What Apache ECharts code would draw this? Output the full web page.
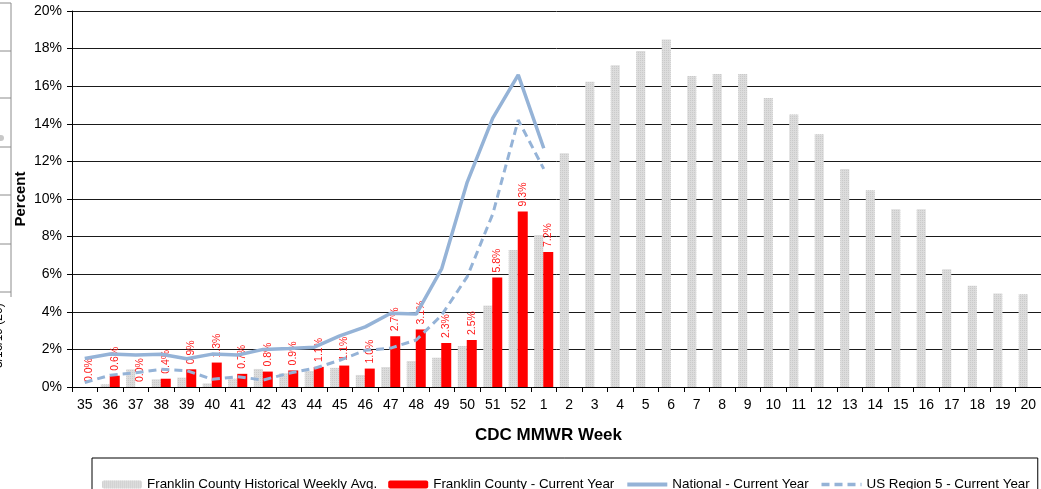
<!DOCTYPE html>
<html>
<head>
<meta charset="utf-8">
<script src="https://cdn.jsdelivr.net/npm/echarts@6/dist/echarts.min.js"></script>
<style>html,body{margin:0;padding:0;background:#fff;}#c{width:1041px;height:489px;}</style>
</head>
<body>
<div id="c"></div>
<script>
const weeks = ['35','36','37','38','39','40','41','42','43','44','45','46','47','48','49','50','51','52','1','2','3','4','5','6','7','8','9','10','11','12','13','14','15','16','17','18','19','20'];
const historical = [0,0.14,0.94,0.41,0.5,0.19,0.44,0.96,0.73,0.85,1.02,0.64,1.06,1.38,1.56,2.18,4.33,7.29,8.09,12.43,16.24,17.11,17.87,18.49,16.54,16.65,16.65,15.37,14.5,13.44,11.6,10.46,9.45,9.45,6.26,5.39,4.98,4.93];
const currentYear = [0.0,0.6,0.0,0.44,0.94,1.3,0.7,0.82,0.88,1.07,1.14,0.98,2.7,3.06,2.34,2.5,5.82,9.34,7.18];
const national = [1.52,1.75,1.7,1.74,1.5,1.75,1.7,2.0,2.05,2.12,2.72,3.2,3.92,3.88,6.3,10.9,14.3,16.6,12.7];
const region5 = [0.24,0.63,0.76,0.94,0.87,0.41,0.55,0.37,0.73,0.99,1.42,1.95,2.07,2.5,3.83,5.87,9.2,14.2,11.6];
const yTicks = [0,2,4,6,8,10,12,14,16,18,20];

const FONT = "'Liberation Sans', Arial, sans-serif";
const chart = echarts.init(document.getElementById('c'));

const leftLinesY = [3,51,98,147,195,244,292];
const graphics = leftLinesY.map(y => ({type:'line', shape:{x1:0,y1:y,x2:11,y2:y}, style:{stroke:'#8c8c8c', lineWidth:1}}));
graphics.push({type:'line', shape:{x1:11,y1:3,x2:11,y2:297}, style:{stroke:'#8c8c8c', lineWidth:1}});
graphics.push({type:'circle', shape:{cx:1,cy:138,r:3}, style:{fill:'#c8c8c8'}});
graphics.push({type:'text', x:-1, y:368, rotation:Math.PI/2, style:{text:'3/16/19 (20)', font:'12px ' + FONT, fill:'#000', align:'left', verticalAlign:'middle'}});

const hiddenSymbol = {color: 'rgba(0,0,0,0)', borderColor: 'rgba(0,0,0,0)', borderWidth: 0, opacity: 0};

chart.setOption({
  animation: false,
  backgroundColor: '#fff',
  textStyle: {fontFamily: FONT},
  graphic: graphics,
  grid: {left: 72, right: 0, top: 11, bottom: 102, containLabel: false},
  legend: {
    left: 92, top: 458,
    borderColor: '#000', borderWidth: 1,
    padding: [20, 8, 10, 10],
    itemWidth: 40, itemHeight: 8, itemGap: 11,
    textStyle: {fontSize: 13.4, color: '#000', fontFamily: FONT},
    data: [
      {name: 'Franklin County Historical Weekly Avg.'},
      {name: 'Franklin County - Current Year'},
      {name: 'National - Current Year', itemStyle: hiddenSymbol, lineStyle: {width: 4, color: '#95b3d7'}},
      {name: 'US Region 5 - Current Year', itemStyle: hiddenSymbol, lineStyle: {width: 3.5, color: '#95b3d7', type: [8, 5]}}
    ]
  },
  xAxis: {
    type: 'category',
    data: weeks,
    boundaryGap: true,
    name: 'CDC MMWR Week',
    nameLocation: 'middle',
    nameGap: 40,
    nameTextStyle: {fontSize: 17, fontWeight: 'bold', color: '#000', fontFamily: FONT, padding: [0, 16, 0, 0]},
    axisLine: {lineStyle: {color: '#000', width: 1}},
    axisTick: {show: true, alignWithLabel: false, length: 5, lineStyle: {color: '#000'}},
    axisLabel: {fontSize: 14, color: '#000', margin: 11, interval: 0, fontFamily: FONT}
  },
  yAxis: {
    type: 'value',
    min: yTicks[0], max: yTicks[yTicks.length - 1], interval: 2,
    name: 'Percent',
    nameLocation: 'middle',
    nameGap: 44,
    nameMoveOverlap: false,
    nameTextStyle: {fontSize: 15, fontWeight: 'bold', color: '#000', fontFamily: FONT},
    axisLine: {show: true, lineStyle: {color: '#000', width: 1}},
    axisTick: {show: true, length: 5, inside: false, lineStyle: {color: '#000'}},
    axisLabel: {fontSize: 14, color: '#000', margin: 10, formatter: '{value}%', fontFamily: FONT},
    splitLine: {show: true, lineStyle: {color: '#1a1a1a', width: 1}}
  },
  series: [
    {
      name: 'Franklin County Historical Weekly Avg.',
      type: 'bar',
      data: historical,
      barWidth: 9,
      barGap: '0%',
      itemStyle: {
        color: '#dcdcdc',
        decal: {symbol: 'rect', symbolSize: 1, color: 'rgba(200,200,200,0.9)', dashArrayX: [1, 1], dashArrayY: [1, 1], rotation: 0}
      },
      z: 2
    },
    {
      name: 'Franklin County - Current Year',
      type: 'bar',
      data: currentYear,
      barWidth: 10,
      barGap: '0%',
      itemStyle: {color: '#ff0000'},
      label: {
        show: true,
        position: 'top',
        rotate: 90,
        align: 'left',
        verticalAlign: 'middle',
        distance: 5,
        fontSize: 10.5,
        color: '#ff1a1a',
        fontFamily: FONT,
        formatter: p => p.value.toFixed(1) + '%'
      },
      z: 3
    },
    {
      name: 'National - Current Year',
      type: 'line',
      data: national,
      symbol: 'none',
      lineStyle: {color: '#95b3d7', width: 3.5},
      itemStyle: {color: '#95b3d7'},
      z: 4
    },
    {
      name: 'US Region 5 - Current Year',
      type: 'line',
      data: region5,
      symbol: 'none',
      lineStyle: {color: '#95b3d7', width: 3, type: [8, 5]},
      itemStyle: {color: '#95b3d7'},
      z: 4
    }
  ]
});
</script>
</body>
</html>
